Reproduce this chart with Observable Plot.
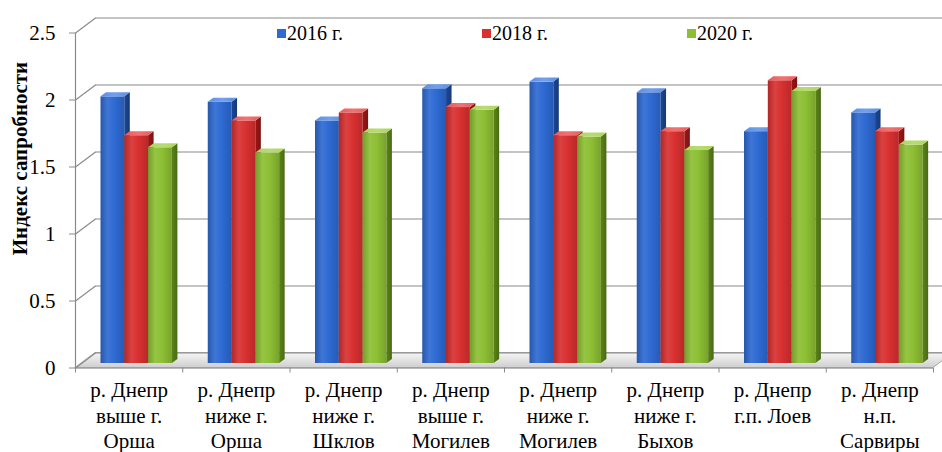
<!DOCTYPE html>
<html>
<head>
<meta charset="utf-8">
<script src="https://cdn.jsdelivr.net/npm/d3@7"></script>
<script src="https://cdn.jsdelivr.net/npm/@observablehq/plot@0.6"></script>
<style>
  body { margin: 0; background: #fff; }
  #chart { position: relative; width: 942px; height: 452px; }
  #chart svg text, #chart svg { font-family: "Liberation Serif", "Times New Roman", serif !important; }
  #legend { position: absolute; left: 277px; top: 17px; }
  #legend div.yr-swatches, #legend div.yr-swatches * { font-family: "Liberation Serif", "Times New Roman", serif !important; }
  #legend div.yr-swatches { margin: 0; font-size: 20px; color: #000; }
  #legend div.yr-swatches .yr-swatch { margin: 0; width: 205px; }
  #legend div.yr-swatches .yr-swatch > svg { margin-right: 1px; }
</style>
</head>
<body>
<div id="chart"></div>
<script>
// Saprobity index of the Dnieper at monitoring sites, by year
const sites = [
  "р. Днепр\nвыше г.\nОрша",
  "р. Днепр\nниже г.\nОрша",
  "р. Днепр\nниже г.\nШклов",
  "р. Днепр\nвыше г.\nМогилев",
  "р. Днепр\nниже г.\nМогилев",
  "р. Днепр\nниже г.\nБыхов",
  "р. Днепр\nг.п. Лоев",
  "р. Днепр\nн.п.\nСарвиры"
];
const years = ["2016 г.", "2018 г.", "2020 г."];
const index2016 = [1.99, 1.95, 1.81, 2.05, 2.10, 2.02, 1.73, 1.87];
const index2018 = [1.70, 1.81, 1.87, 1.91, 1.70, 1.73, 2.11, 1.73];
const index2020 = [1.61, 1.57, 1.72, 1.89, 1.69, 1.59, 2.03, 1.63];
const yTicks = [0, 0.5, 1, 1.5, 2, 2.5];
const yTickLabels = ["0", "0.5", "1", "1.5", "2", "2.5"];
const yTitle = "Индекс сапробности";

const seriesValues = [index2016, index2018, index2020];
const seriesColors = ["#2e6ad2", "#d83030", "#8dbf34"];
const sideColors = ["#1c4796", "#9c1616", "#5b8419"];
const topColors = ["#5a8fe6", "#ec5a5a", "#acd55a"];

// Frame geometry (pixels)
const W = 942, H = 452, mL = 75, mR = 9, mT = 32.5, mB = 84.5;
const pxX = sites.length / (W - mL - mR);   // category units per pixel
const pxY = 2.5 / (H - mT - mB);            // index units per pixel

// Oblique depth: back wall offset and bar depth
const wallX = 20 * pxX, wallY = 15 * pxY;
const barLift = 4.5 * pxY;
const barDX = 5.5 * pxX, barDY = 4 * pxY;
const barW = 23.8 * pxX, barStart = 25.5 * pxX;

// One row per bar
const bars = [];
seriesValues.forEach((vals, k) => {
  vals.forEach((v, i) => {
    const x1 = i + barStart + k * barW;
    bars.push({k, i, id: k * 100 + i, x1, x2: x1 + barW, y1: barLift, y2: v + barLift, value: v});
  });
});

// Side and top faces as two-point areas (parallelograms)
const sidePts = bars.flatMap(b => [
  {k: b.k, id: b.id, x: b.x2, y1: b.y1, y2: b.y2},
  {k: b.k, id: b.id, x: b.x2 + barDX, y1: b.y1 + barDY, y2: b.y2 + barDY}
]);
const topPts = bars.flatMap(b => [
  {k: b.k, id: b.id, y: b.y2, x1: b.x1, x2: b.x2},
  {k: b.k, id: b.id, y: b.y2 + barDY, x1: b.x1 + barDX, x2: b.x2 + barDX}
]);

const floorPts = [
  {y: 0, x1: 0, x2: sites.length},
  {y: wallY, x1: wallX, x2: sites.length + wallX}
];

const gridColor = "#8a8a8a";
const marks = [
  // floor
  Plot.areaX(floorPts, {y: "y", x1: "x1", x2: "x2", fill: "url(#floorGrad)", stroke: "#a8a8a8", strokeWidth: 1}),
  // back wall gridlines
  Plot.ruleY(yTicks, {y: t => t + wallY, x1: wallX, x2: sites.length + wallX + 1, stroke: gridColor, strokeWidth: 1.2}),
  // side wall gridlines
  Plot.link(yTicks, {x1: 0, y1: t => t, x2: wallX, y2: t => t + wallY, stroke: gridColor, strokeWidth: 1.2})
];

// bars: drawn left to right so nearer faces overlap correctly
for (let i = 0; i < sites.length; ++i) {
  for (let k = 0; k < 3; ++k) {
    const sel = d => d.i === i && d.k === k;
    const selP = d => d.id === k * 100 + i;
    marks.push(
      Plot.rect(bars.filter(sel), {x1: "x1", x2: "x2", y1: "y1", y2: "y2", fill: `url(#front${k})`}),
      Plot.areaY(sidePts.filter(selP), {x: "x", y1: "y1", y2: "y2", fill: `url(#side${k})`}),
      Plot.areaX(topPts.filter(selP), {y: "y", x1: "x1", x2: "x2", fill: `url(#top${k})`})
    );
  }
}

marks.push(
  Plot.ruleX([0], {y1: 0, y2: 2.5, stroke: gridColor, strokeWidth: 1.2}),
  Plot.ruleY([0], {x1: 0, x2: sites.length, stroke: gridColor, strokeWidth: 1.2}),
  Plot.axisY(yTicks, {
    tickSize: 6, tickPadding: 14, stroke: gridColor, fontSize: 21, fill: "#000",
    tickFormat: t => yTickLabels[yTicks.indexOf(t)], label: null
  }),
  Plot.axisX(d3.range(sites.length + 1), {tickSize: 5, stroke: gridColor, tickFormat: () => "", label: null}),
  Plot.axisX(d3.range(sites.length).map(i => i + 0.5), {
    tickSize: 0, tickPadding: 11, fontSize: 21, lineHeight: 1.215, fill: "#000",
    tickFormat: t => sites[Math.floor(t)], label: null
  }),
  Plot.text([yTitle], {
    frameAnchor: "left", rotate: -90, dx: -55, dy: -42,
    fontWeight: "bold", fontSize: 21, fill: "#000", textAnchor: "middle"
  })
);

const chart = Plot.plot({
  width: W, height: H,
  marginLeft: mL, marginRight: mR, marginTop: mT, marginBottom: mB,
  x: {type: "linear", domain: [0, sites.length]},
  y: {type: "linear", domain: [0, 2.5]},
  style: {fontSize: "21px", color: "#000", background: "#fff"},
  marks
});

// gradients for the faces and the floor
const defs = d3.select(chart).insert("defs", ":first-child");
const shade = (c, t) => d3.interpolateRgb(c, t < 0 ? "#000" : "#fff")(Math.abs(t));
seriesColors.forEach((c, k) => {
  const g = defs.append("linearGradient").attr("id", `front${k}`).attr("x1", 0).attr("x2", 1).attr("y1", 0).attr("y2", 0);
  [[0, shade(c, -0.18)], [0.3, shade(c, 0.08)], [0.6, c], [1, shade(c, -0.15)]]
    .forEach(([o, col]) => g.append("stop").attr("offset", o).attr("stop-color", col));
  const s = defs.append("linearGradient").attr("id", `side${k}`).attr("x1", 0).attr("x2", 1).attr("y1", 0).attr("y2", 0);
  [[0, sideColors[k]], [1, shade(sideColors[k], -0.2)]]
    .forEach(([o, col]) => s.append("stop").attr("offset", o).attr("stop-color", col));
  const t = defs.append("linearGradient").attr("id", `top${k}`).attr("x1", 0).attr("x2", 1).attr("y1", 0).attr("y2", 0);
  [[0, topColors[k]], [0.5, shade(topColors[k], 0.15)], [1, topColors[k]]]
    .forEach(([o, col]) => t.append("stop").attr("offset", o).attr("stop-color", col));
});
const fg = defs.append("linearGradient").attr("id", "floorGrad").attr("x1", 0).attr("x2", 0).attr("y1", 0).attr("y2", 1);
[[0, "#f6f6f6"], [1, "#cfcfcf"]].forEach(([o, col]) => fg.append("stop").attr("offset", o).attr("stop-color", col));

const legend = Plot.legend({
  color: {type: "ordinal", domain: years, range: seriesColors},
  legend: "swatches", swatchSize: 9, className: "yr"
});

const root = document.getElementById("chart");
root.appendChild(chart);
const lg = document.createElement("div");
lg.id = "legend";
lg.appendChild(legend);
root.appendChild(lg);
</script>
</body>
</html>
